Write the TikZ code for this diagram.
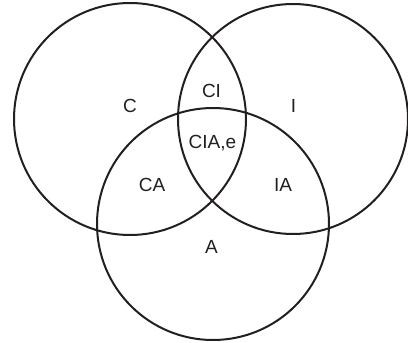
\documentclass[tikz,border=0pt]{standalone}
\usepackage{fontspec}
\setmainfont{Liberation Sans}
\definecolor{ink}{HTML}{231F20}
\begin{document}
\begin{tikzpicture}[x=1pt,y=-1pt,
  setcircle/.style={draw=ink,line width=2pt,circle,inner sep=0pt},
  lbl/.style={font=\fontsize{19}{22}\selectfont,text=ink,inner sep=0pt,anchor=base}]
\useasboundingbox (0,0) rectangle (408,343);
\node[setcircle,minimum size=232pt] (cC) at (130,119) {};
\node[setcircle,minimum size=230pt] (cI) at (293,119) {};
\node[setcircle,minimum size=232pt] (cA) at (213,224) {};
\node[lbl] (tC) at (130,112) {C};
\node[lbl] (tI) at (293.5,112) {I};
\node[lbl] (tCI) at (211.5,97) {CI};
\node[lbl] (tCIA) at (212.5,148) {CIA,e};
\node[lbl] (tCA) at (152,191) {CA};
\node[lbl] (tIA) at (283,191) {IA};
\node[lbl] (tA) at (211.5,253) {A};
\end{tikzpicture}
\end{document}
